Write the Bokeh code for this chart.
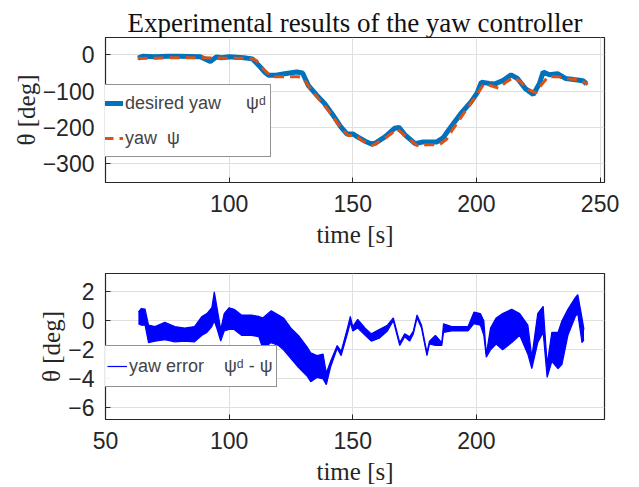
from bokeh.plotting import figure
from bokeh.layouts import column
from bokeh.models import FixedTicker, Legend, LegendItem, Range1d
from bokeh.embed import file_html
from bokeh.resources import INLINE

# ---- top panel data ----
t_des = [63.2, 65, 70, 75, 80, 88.3, 92.4, 94.8, 97, 100, 106, 109.4, 112, 114.3, 116, 119,
         122.4, 127.3, 129.7, 132, 135.4, 138.6, 141.9, 145, 147.6, 150, 151.6, 155, 157.3,
         159, 163, 167, 168.7, 171, 175.2, 178.4, 184, 186.5, 189, 193.8, 197.9, 200.3, 202,
         205.2, 207.6, 210.9, 214, 216.6, 219.8, 223, 225.5, 227, 229.5, 232.8, 236, 239.3,
         241.7, 243.3, 244.5]
yaw_des = [-9, -4, -5, -4, -4, -5, -18, -6, -8, -5, -8, -11, -29, -47, -56, -56,
           -52, -47, -50, -84, -111, -134, -165, -197, -218, -218, -225, -238, -245,
           -244, -226, -202, -200, -220, -245, -240, -240, -229, -205, -161, -129, -105, -75,
           -79, -80, -70, -55, -65, -93, -109, -79, -47, -55, -52, -65, -68,
           -70, -72, -80]
t_act = [63, 75, 90, 100, 108, 111, 114, 117, 120, 128, 130, 133, 136, 140, 144, 148, 151,
         154, 158, 163, 168, 171, 176, 180, 185, 188, 190, 195, 200, 203, 206, 209, 212, 215,
         218, 221, 224, 226, 229, 233, 236, 240, 243, 245]
yaw_act = [-10, -8, -8, -9, -9, -15, -40, -60, -60, -60, -65, -95, -120, -152, -190, -222, -222,
           -238, -250, -230, -205, -222, -250, -248, -248, -232, -210, -160, -112, -80, -85, -92, -75, -62,
           -75, -95, -105, -85, -60, -60, -65, -68, -72, -82]

# ---- bottom panel data (envelope of the oscillating error) ----
err_t = [63.3, 64.5, 66, 67.4, 70, 74, 78, 82, 86, 89, 91, 93, 94, 95.2, 96.6, 98, 100, 102, 105,
         109, 112, 113.6, 117, 120, 122, 125, 128, 131.5, 133, 135.5, 138, 139.3, 141, 143.7,
         145.3, 148, 149, 150, 152, 155, 157.5, 160.7, 164, 166.4, 169, 171, 173, 174.5, 176,
         177.8, 180, 181, 183.4, 186, 186.7, 190, 196.6, 199, 201.6, 203, 204, 205.7, 208,
         210.6, 214.3, 217.5, 220.8, 222.4, 224.8, 227, 228.6, 230.5, 233, 234.6, 237, 240,
         241, 242.7, 243.5]
err_hi = [0.6, 0.85, 0.8, -0.3, -0.4, -0.1, -0.4, -0.5, -0.4, 0.3, 0.5, 0.9, 2.0, 0.8, -0.6, 0.5, 0.9, 0.8, 0.4,
          0.4, 0.3, 0.2, 0.7, 0.4, 0.2, -0.5, -1.0, -1.8, -2.2, -2.4, -2.3, -3.6, -2.8, -1.7,
          -2.1, -0.4, 0.3, -0.4, 0.1, -0.5, -0.9, -0.6, -0.3, 0.2, -1.5, -0.9, -1.1, -0.7, 0.4,
          -0.3, -2.2, -1.4, -1.0, -1.5, -0.2, -0.4, -0.4, 0.6, 0.5, 0.0, -2.3, -0.5, 0.2,
          0.5, 0.8, 0.5, -0.3, -2.5, 0.5, 1.0, -3.0, -0.8, -0.8, 0.0, 0.8, 1.6,
          1.8, 0.2, -0.6]
err_lo = [-0.2, -0.3, -0.3, -1.5, -1.4, -1.3, -1.45, -1.4, -1.45, -1.0, -0.8, -0.4, 0.0, -0.6, -1.4, -0.7, -0.6, -0.6, -1.0,
          -1.0, -1.1, -1.9, -1.5, -1.7, -2.0, -2.6, -3.2, -3.8, -4.2, -3.9, -4.0, -4.4, -3.2, -1.9,
          -2.4, -0.8, -0.1, -0.7, -0.5, -1.0, -1.4, -1.2, -0.7, 0.0, -1.7, -1.1, -1.4, -0.9, 0.2,
          -0.5, -2.4, -1.6, -1.7, -1.7, -0.8, -0.7, -0.7, -0.2, -0.3, -1.0, -2.5, -2.0, -1.6,
          -2.0, -1.5, -1.0, -2.3, -3.3, -1.5, -0.8, -3.9, -2.8, -3.3, -3.0, -1.0, 0.3,
          0.5, -1.5, -1.3]

top_xticks = [100, 150, 200, 250]
bot_xticks = [50, 100, 150, 200]
top_yticks = [-300, -200, -100, 0]
bot_yticks = [-6, -4, -2, 0, 2]

TICK_FONT = "Liberation Sans"
SERIF = "Liberation Serif"
DARK = "#262626"


def style(p, xticks, yticks):
    p.xaxis.ticker = FixedTicker(ticks=xticks)
    p.yaxis.ticker = FixedTicker(ticks=yticks)
    for ax in (p.xaxis[0], p.yaxis[0]):
        ax.major_label_text_font = TICK_FONT
        ax.major_label_text_font_size = "23px"
        ax.major_label_text_color = DARK
        ax.major_label_text_line_height = 1.0
        ax.axis_line_color = DARK
        ax.major_tick_line_color = DARK
        ax.major_tick_in = 5
        ax.major_tick_out = 0
        ax.minor_tick_line_color = None
        ax.axis_label_text_font = SERIF
        ax.axis_label_text_font_size = "25px"
        ax.axis_label_text_font_style = "normal"
        ax.axis_label_text_color = DARK
        ax.axis_label_text_line_height = 1.0
    p.xaxis.major_label_standoff = 12
    p.yaxis.major_label_standoff = 11
    p.xaxis.axis_label_standoff = 6
    p.yaxis.axis_label_standoff = 0
    p.xaxis.axis_label = "time [s]"
    p.yaxis.axis_label = "\u03b8 [deg]"
    p.grid.grid_line_color = "#dfdfdf"
    p.outline_line_color = DARK
    p.outline_line_width = 1.2
    p.background_fill_color = "white"
    p.border_fill_color = "white"


p1 = figure(width=630, height=250, output_backend="svg", toolbar_location=None,
            x_range=Range1d(50, 251.8), y_range=Range1d(-352, 48),
            min_border_left=105, min_border_right=26, min_border_top=37, min_border_bottom=66,
            title="Experimental results of the yaw controller")
p1.title.text_font = SERIF
p1.title.text_font_size = "27px"
p1.title.text_font_style = "normal"
p1.title.align = "center"
p1.title.text_color = "#111111"
p1.title.text_line_height = 1.0
p1.title.standoff = 0
p1.title.offset = 0
style(p1, top_xticks, top_yticks)

r_des = p1.line(t_des, yaw_des, line_color="#0072BD", line_width=5)
r_act = p1.line(t_act, yaw_act, line_color="#D95319", line_width=3, line_dash="10 6")

leg1 = Legend(items=[LegendItem(label="desired yaw     \u03c8\u1d48", renderers=[r_des]),
                     LegendItem(label="yaw  \u03c8", renderers=[r_act])],
              location=(-7, 25))
leg1.label_text_font = TICK_FONT
leg1.label_text_font_size = "18px"
leg1.label_height = 28
leg1.glyph_height = 28
leg1.glyph_width = 20
leg1.spacing = 7
leg1.padding = 4
leg1.margin = 0
leg1.label_standoff = 2
leg1.border_line_color = DARK
leg1.border_line_width = 1
leg1.background_fill_alpha = 1
p1.add_layout(leg1, "center")

p2 = figure(width=630, height=237, output_backend="svg", toolbar_location=None,
            x_range=Range1d(50, 251.8), y_range=Range1d(-6.8, 3.26),
            min_border_left=105, min_border_right=26, min_border_top=23, min_border_bottom=66)
style(p2, bot_xticks, bot_yticks)

p2.varea(x=err_t, y1=err_lo, y2=err_hi, fill_color="#0000FF")
r_err = p2.line(err_t, err_hi, line_color="#0000FF", line_width=1.2)
p2.line(err_t, err_lo, line_color="#0000FF", line_width=1.2)

leg2 = Legend(items=[LegendItem(label="yaw error    \u03c8\u1d48 - \u03c8", renderers=[r_err])],
              location=(-3, 32))
leg2.label_text_font = TICK_FONT
leg2.label_text_font_size = "18px"
leg2.label_height = 32
leg2.glyph_height = 32
leg2.glyph_width = 20
leg2.padding = 4
leg2.margin = 0
leg2.label_standoff = 2
leg2.border_line_color = DARK
leg2.border_line_width = 1
p2.add_layout(leg2, "center")

layout = column(p1, p2, spacing=0)
open("out.html", "w").write(file_html(layout, INLINE))
